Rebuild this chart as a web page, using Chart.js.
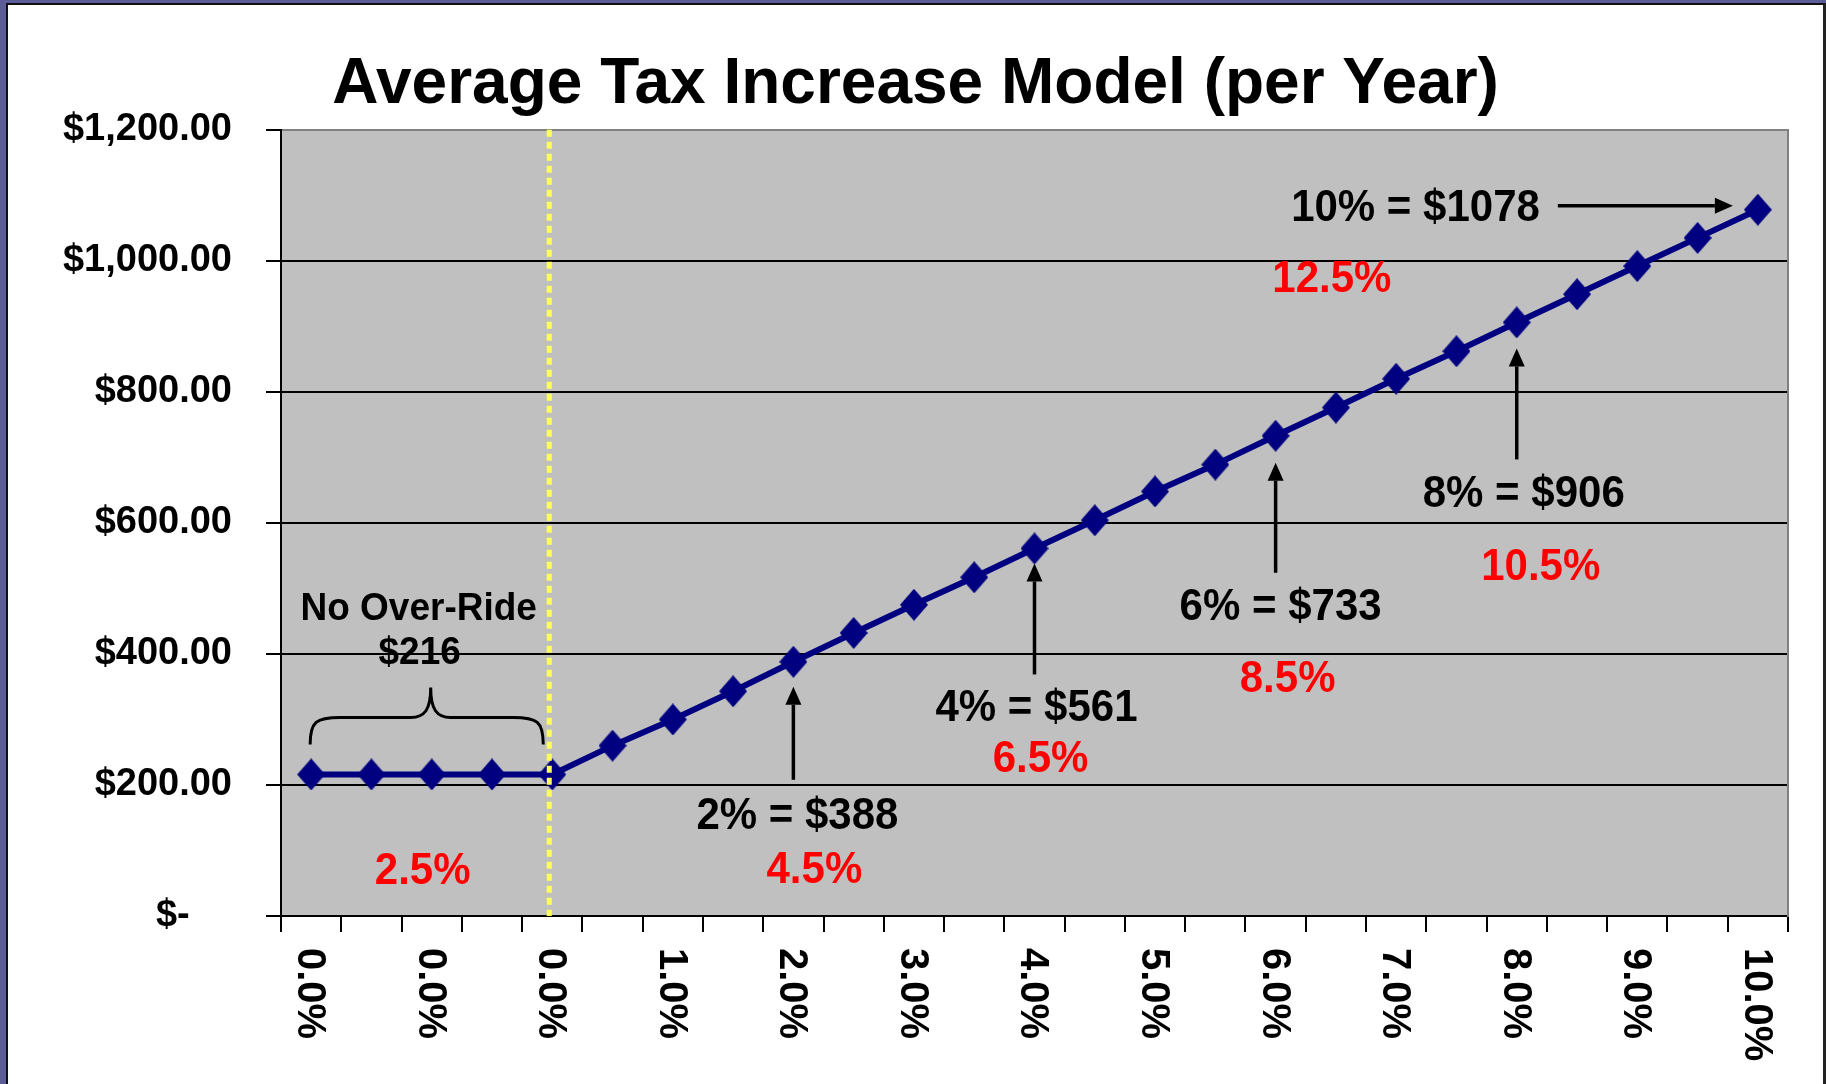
<!DOCTYPE html>
<html>
<head>
<meta charset="utf-8">
<script src="https://cdn.jsdelivr.net/npm/chart.js@4.4.1/dist/chart.umd.min.js"></script>
<style>
  html, body { margin: 0; padding: 0; }
  body { width: 1826px; height: 1084px; background: #5c5c96; position: relative; overflow: hidden; }
  #frame {
    position: absolute; left: 6px; top: 3px; width: 1815px; height: 1079px; background: #fff;
    border-left: 2px solid #111; border-top: 2px solid #111; border-right: 3px solid #222;
  }
  canvas { display: block; }
</style>
</head>
<body>
<div id="frame"><canvas id="taxChart" width="1815" height="1079"></canvas></div>
<script>
// chart data
const categories = ['0.0%', '0.0%', '0.0%', '0.0%', '0.0%', '0.5%', '1.0%', '1.5%', '2.0%', '2.5%', '3.0%', '3.5%',
    '4.0%', '4.5%', '5.0%', '5.5%', '6.0%', '6.5%', '7.0%', '7.5%', '8.0%', '8.5%', '9.0%', '9.5%', '10.0%'];
const avgTaxIncrease = [216, 216, 216, 216, 216, 260, 300, 343, 388, 432, 475, 517,
    561, 604, 648, 689, 733, 776, 820, 862, 906, 949, 992, 1035, 1078];
const yTickValues = [0, 200, 400, 600, 800, 1000, 1200];
const yTickLabels = ['$-    ', '$200.00', '$400.00', '$600.00', '$800.00', '$1,000.00', '$1,200.00'];

// callouts, by category index
const calloutIndex = [8, 12, 16, 20, 24];
const calloutText = ['2% = $388', '4% = $561', '6% = $733', '8% = $906', '10% = $1078'];
const calloutRate = ['4.5%', '6.5%', '8.5%', '10.5%', '12.5%'];
const noOverrideRange = [0, 4];
const noOverrideText = ['No Over-Ride', '$216'];
const noOverrideRate = '2.5%';

const FONT = "'Liberation Sans', Arial, sans-serif";

// offsets of each callout from its point
const calloutLayout = [
    { tip: 25, tail: 118, tx: 4, ty: 155, rx: 21, ry: 209 },
    { tip: 15, tail: 126, tx: 2, ty: 160, rx: 6, ry: 211 },
    { tip: 27, tail: 137, tx: 5, ty: 172, rx: 12, ry: 244 },
    { tip: 26, tail: 137, tx: 7, ty: 172, rx: 24, ry: 245 },
    { horizontal: true, tip: -25, tail: -200, dy: -4, tx: -218, ty: -1, rx: -426, ry: 70 }
];

// diamond marker, a bit taller than wide
const diamond = document.createElement('canvas');
diamond.width = 28;
diamond.height = 32;
const dctx = diamond.getContext('2d');
dctx.fillStyle = '#000080';
dctx.beginPath();
dctx.moveTo(14, 0);
dctx.lineTo(28, 16);
dctx.lineTo(14, 32);
dctx.lineTo(0, 16);
dctx.closePath();
dctx.fill();

function drawArrow(ctx, x1, y1, x2, y2) {
    const ang = Math.atan2(y2 - y1, x2 - x1);
    const c = Math.cos(ang), s = Math.sin(ang);
    const head = 18, half = 8;
    ctx.beginPath();
    ctx.moveTo(x1, y1);
    ctx.lineTo(x2 - head * c, y2 - head * s);
    ctx.stroke();
    ctx.beginPath();
    ctx.moveTo(x2, y2);
    ctx.lineTo(x2 - head * c + half * s, y2 - head * s - half * c);
    ctx.lineTo(x2 - head * c - half * s, y2 - head * s + half * c);
    ctx.closePath();
    ctx.fill();
}

// text a little taller than the font, like the original
function tallText(ctx, text, x, y) {
    ctx.save();
    ctx.translate(x, y);
    ctx.scale(1, 1.07);
    ctx.fillText(text, 0, 0);
    ctx.restore();
}

const plotDecor = {
    id: 'plotDecor',
    beforeDraw(chart) {
        const a = chart.chartArea;
        const ctx = chart.ctx;
        ctx.save();
        ctx.fillStyle = '#c0c0c0';
        ctx.fillRect(a.left, a.top, a.right - a.left, a.bottom - a.top);
        ctx.restore();
    },
    afterDatasetsDraw(chart) {
        const a = chart.chartArea;
        const ctx = chart.ctx;
        const x = chart.scales.x.getPixelForValue(noOverrideRange[1]) - 3;
        ctx.save();
        ctx.strokeStyle = '#ffff5a';
        ctx.lineWidth = 5;
        ctx.setLineDash([7, 5]);
        ctx.beginPath();
        ctx.moveTo(x, a.top);
        ctx.lineTo(x, a.bottom);
        ctx.stroke();
        ctx.restore();
    },
    afterDraw(chart) {
        const a = chart.chartArea;
        const ctx = chart.ctx;
        const xs = chart.scales.x, ys = chart.scales.y;
        ctx.save();

        // x labels, turned clockwise
        ctx.fillStyle = '#000';
        ctx.font = 'bold 40px ' + FONT;
        ctx.textAlign = 'left';
        ctx.textBaseline = 'middle';
        categories.forEach((lab, i) => {
            if (i % 2) return;
            ctx.save();
            ctx.translate(xs.getPixelForValue(i) - 2, a.bottom + 32);
            ctx.rotate(Math.PI / 2);
            ctx.fillText(lab, 0, 0);
            ctx.restore();
        });

        // callouts
        ctx.strokeStyle = '#000';
        ctx.lineWidth = 3.5;
        calloutIndex.forEach((idx, k) => {
            const L = calloutLayout[k];
            const px = xs.getPixelForValue(idx);
            const py = ys.getPixelForValue(avgTaxIncrease[idx]);
            ctx.fillStyle = '#000';
            if (L.horizontal) {
                drawArrow(ctx, px + L.tail, py + L.dy, px + L.tip, py + L.dy);
                ctx.textAlign = 'right';
            } else {
                drawArrow(ctx, px, py + L.tail, px, py + L.tip);
                ctx.textAlign = 'center';
            }
            ctx.font = 'bold 42px ' + FONT;
            tallText(ctx, calloutText[k], px + L.tx, py + L.ty);
            ctx.textAlign = 'center';
            ctx.fillStyle = '#ff0000';
            ctx.font = 'bold 42px ' + FONT;
            tallText(ctx, calloutRate[k], px + L.rx, py + L.ry);
        });

        // brace over the flat part
        const bx1 = xs.getPixelForValue(noOverrideRange[0]) - 1;
        const bx2 = xs.getPixelForValue(noOverrideRange[1]) - 9;
        const by = ys.getPixelForValue(avgTaxIncrease[noOverrideRange[0]]);
        const bm = (bx1 + bx2) / 2 + 4;
        const yEnd = by - 30, yH = by - 57, yTip = by - 87;
        ctx.lineWidth = 3;
        ctx.beginPath();
        ctx.moveTo(bx1, yEnd);
        ctx.bezierCurveTo(bx1, yH + 4, bx1 + 6, yH, bx1 + 30, yH);
        ctx.lineTo(bm - 20, yH);
        ctx.bezierCurveTo(bm - 6, yH, bm, yH - 8, bm, yTip);
        ctx.bezierCurveTo(bm, yH - 8, bm + 6, yH, bm + 20, yH);
        ctx.lineTo(bx2 - 30, yH);
        ctx.bezierCurveTo(bx2 - 6, yH, bx2, yH + 4, bx2, yEnd);
        ctx.stroke();

        ctx.fillStyle = '#000';
        ctx.textAlign = 'center';
        ctx.font = 'bold 37px ' + FONT;
        tallText(ctx, noOverrideText[0], bm - 12, by - 165);
        tallText(ctx, noOverrideText[1], bm - 11, by - 121);
        ctx.fillStyle = '#ff0000';
        ctx.font = 'bold 42px ' + FONT;
        tallText(ctx, noOverrideRate, bm - 8, by + 97);

        ctx.restore();
    }
};

const ctx = document.getElementById('taxChart').getContext('2d');
new Chart(ctx, {
    type: 'line',
    data: {
        labels: categories,
        datasets: [{
            label: 'Average Tax Increase',
            data: avgTaxIncrease,
            borderColor: '#000080',
            borderWidth: 6,
            tension: 0,
            pointStyle: diamond,
            pointRadius: 14,
            pointHoverRadius: 14
        }]
    },
    options: {
        responsive: false,
        animation: false,
        devicePixelRatio: 1,
        events: [],
        layout: { padding: 0 },
        plugins: {
            legend: { display: false },
            tooltip: { enabled: false },
            title: {
                display: true,
                text: 'Average Tax Increase Model (per Year)',
                color: '#000',
                font: { family: FONT, size: 64, weight: 'bold' },
                padding: { top: 42, bottom: 6 }
            }
        },
        scales: {
            x: {
                type: 'category',
                offset: true,
                grid: {
                    offset: true,
                    drawOnChartArea: false,
                    drawTicks: true,
                    tickLength: 16,
                    color: '#000',
                    lineWidth: 2
                },
                border: { color: '#000', width: 2 },
                ticks: { display: false },
                afterFit: function(scale) { scale.height = 168; }
            },
            y: {
                min: 0,
                max: 1200,
                grid: {
                    color: c => (c.tick && c.tick.value === 1200) ? '#808080' : '#000',
                    tickColor: '#000',
                    lineWidth: 2,
                    tickLength: 15
                },
                border: { color: '#000', width: 2 },
                ticks: {
                    stepSize: 200,
                    padding: 34,
                    color: '#000',
                    font: { family: FONT, size: 38, weight: 'bold' },
                    callback: function(value) {
                        const i = yTickValues.indexOf(value);
                        return i >= 0 ? yTickLabels[i] : '';
                    }
                },
                afterFit: function(scale) { scale.width = 273; }
            },
            y2: {
                position: 'right',
                display: true,
                grid: { drawOnChartArea: false, drawTicks: false },
                border: { display: true, color: '#808080', width: 2 },
                ticks: { display: false },
                afterFit: function(scale) { scale.width = 35; }
            }
        }
    },
    plugins: [plotDecor]
});
</script>
</body>
</html>
